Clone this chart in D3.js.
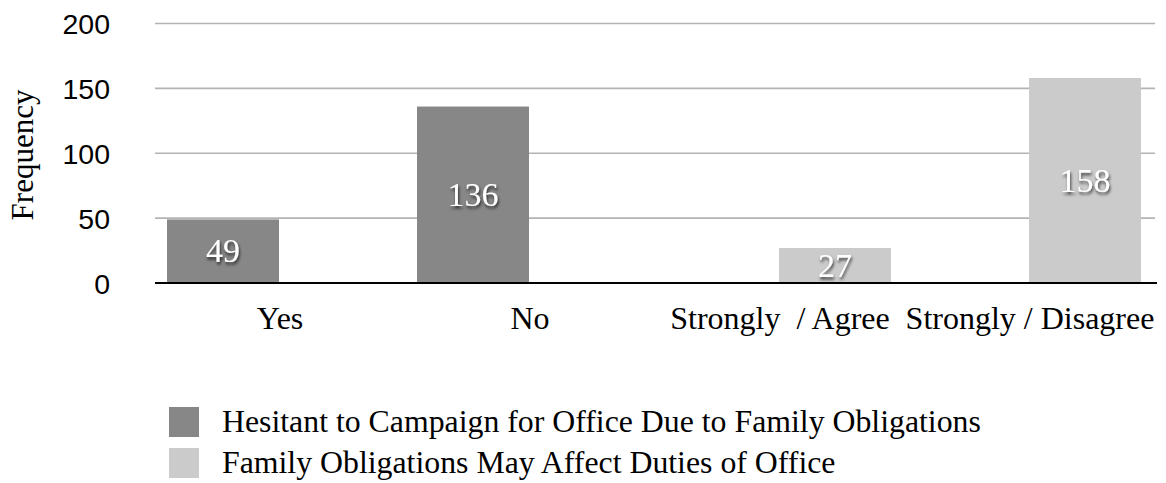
<!DOCTYPE html>
<html>
<head>
<meta charset="utf-8">
<script src="https://cdn.jsdelivr.net/npm/d3@7"></script>
<style>
  html, body { margin: 0; padding: 0; background: #fff; }
  svg { display: block; }
</style>
</head>
<body>
<svg id="chart" width="1166" height="483"></svg>
<script>
// Category labels along the x axis
const categories = ["Yes", "No", "Strongly  / Agree", "Strongly / Disagree"];
// Series names (legend order)
const seriesNames = [
  "Hesitant to Campaign for Office Due to Family Obligations",
  "Family Obligations May Affect Duties of Office"
];
// Values per series, aligned with categories (0 = no bar)
const hesitantValues = [49, 136, 0, 0];
const dutiesValues = [0, 0, 27, 158];
// Y axis ticks
const yTicks = [0, 50, 100, 150, 200];

const seriesColors = ["#878787", "#cbcbcb"];
const seriesValues = [hesitantValues, dutiesValues];

const svg = d3.select("#chart");
const plotLeft = 155, plotRight = 1155;
const plotTop = 23.5, plotBottom = 283;

const x = d3.scaleBand().domain(categories).range([plotLeft, plotRight]);
const y = d3.scaleLinear().domain([0, 200]).range([plotBottom, plotTop]);
// Two slots per category, one for each series
const xInner = d3.scaleBand().domain([0, 1]).range([12, 236]);

// Drop shadow for value labels
const defs = svg.append("defs");
const f = defs.append("filter").attr("id", "shadow")
  .attr("x", "-30%").attr("y", "-30%").attr("width", "160%").attr("height", "160%");
f.append("feDropShadow").attr("dx", 1).attr("dy", 2.5).attr("stdDeviation", 1.8)
  .attr("flood-color", "#000").attr("flood-opacity", 0.7);

// Y axis tick labels
const yAxis = d3.axisLeft(y).tickValues(yTicks).tickSize(0).tickPadding(0);
const gY = svg.append("g").attr("transform", "translate(110,0)").call(yAxis);
gY.select(".domain").remove();
gY.selectAll("text")
  .attr("font-family", "'Liberation Sans', Arial, sans-serif")
  .attr("font-size", 28.5)
  .attr("fill", "#000")
  .attr("dy", "0.36em");

// Horizontal gridlines
svg.append("g").selectAll("line")
  .data(yTicks.filter(d => d > 0))
  .join("line")
  .attr("x1", plotLeft).attr("x2", plotRight)
  .attr("y1", d => y(d)).attr("y2", d => y(d))
  .attr("stroke", "#b3b3b3").attr("stroke-width", 1.6);

// Bars
const groups = svg.append("g").selectAll("g")
  .data(categories)
  .join("g")
  .attr("transform", d => `translate(${x(d)},0)`);

const cells = groups.selectAll("g.cell")
  .data((c, i) => seriesValues.map((vals, s) => ({ s, v: vals[i] })).filter(d => d.v > 0))
  .join("g").attr("class", "cell");

cells.append("rect")
  .attr("x", d => xInner(d.s))
  .attr("width", xInner.bandwidth())
  .attr("y", d => y(d.v))
  .attr("height", d => y(0) - y(d.v))
  .attr("fill", d => seriesColors[d.s]);

cells.append("text")
  .attr("x", d => xInner(d.s) + xInner.bandwidth() / 2)
  .attr("y", d => (y(d.v) + y(0)) / 2)
  .attr("dy", "0.33em")
  .attr("text-anchor", "middle")
  .attr("font-family", "'Liberation Serif', 'Times New Roman', serif")
  .attr("font-size", 34)
  .attr("fill", "#fff")
  .attr("filter", "url(#shadow)")
  .text(d => d.v);

// Baseline
svg.append("line")
  .attr("x1", plotLeft).attr("x2", plotRight + 2)
  .attr("y1", y(0)).attr("y2", y(0))
  .attr("stroke", "#000").attr("stroke-width", 2);

// X axis labels
const xAxis = d3.axisBottom(x).tickSize(0).tickPadding(0);
const gX = svg.append("g").attr("transform", `translate(0,${y(0)})`).call(xAxis);
gX.select(".domain").remove();
gX.selectAll("text")
  .attr("font-family", "'Liberation Serif', 'Times New Roman', serif")
  .attr("font-size", 32)
  .attr("fill", "#000")
  .attr("y", 46)
  .attr("dy", 0)
  .style("white-space", "pre");

// Y axis title
svg.append("text")
  .attr("transform", "translate(33,155) rotate(-90)")
  .attr("text-anchor", "middle")
  .attr("font-family", "'Liberation Serif', 'Times New Roman', serif")
  .attr("font-size", 31)
  .attr("fill", "#000")
  .text("Frequency");

// Legend
const legend = svg.append("g").selectAll("g")
  .data(seriesNames)
  .join("g")
  .attr("transform", (d, i) => `translate(169,${407 + i * 41})`);
legend.append("rect")
  .attr("width", 30).attr("height", 30)
  .attr("fill", (d, i) => seriesColors[i]);
legend.append("text")
  .attr("x", 53).attr("y", 25)
  .attr("font-family", "'Liberation Serif', 'Times New Roman', serif")
  .attr("font-size", 31.8)
  .attr("fill", "#000")
  .text(d => d);
</script>
</body>
</html>
